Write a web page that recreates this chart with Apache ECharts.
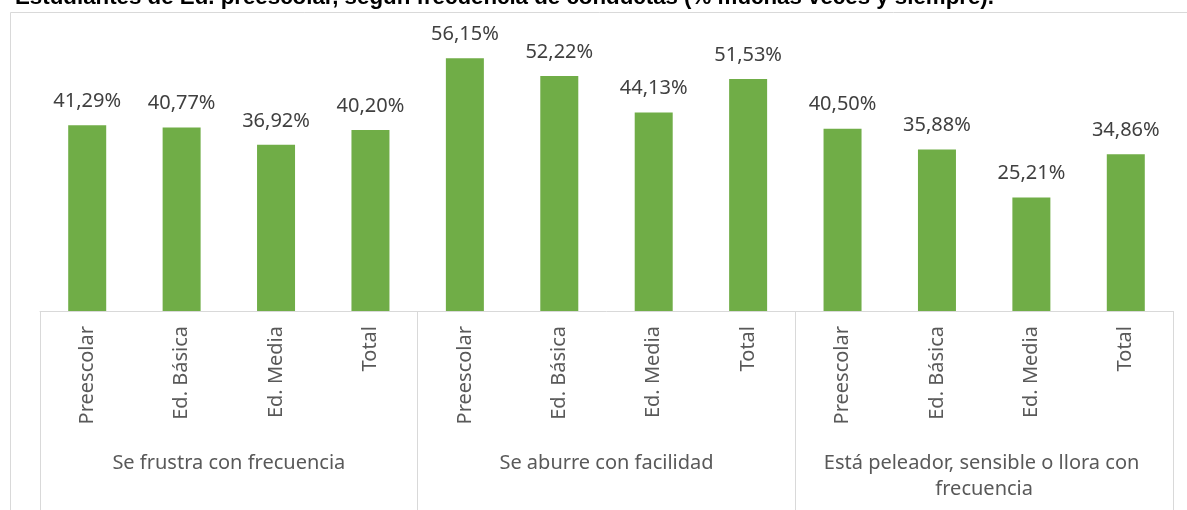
<!DOCTYPE html>
<html>
<head>
<meta charset="utf-8">
<script src="https://cdn.jsdelivr.net/npm/echarts@6/dist/echarts.min.js"></script>
<style>
  html, body { margin: 0; padding: 0; background: #fff; }
  #chart { width: 1187px; height: 510px; }
</style>
</head>
<body>
<div id="chart"></div>
<script>
// Levels shown inside each behaviour group
const levels = ['Preescolar', 'Ed. Básica', 'Ed. Media', 'Total'];
// Behaviour groups (outer axis level)
const groups = [
  'Se frustra con frecuencia',
  'Se aburre con facilidad',
  'Está peleador, sensible o llora con frecuencia'
];
// % muchas veces y siempre, per group and level
const frustra = [41.29, 40.77, 36.92, 40.20];
const aburre = [56.15, 52.22, 44.13, 51.53];
const peleador = [40.50, 35.88, 25.21, 34.86];

const titleText = 'Estudiantes de Ed. preescolar, según frecuencia de conductas (% muchas veces y siempre).';

const categories = [].concat(levels, levels, levels);
const values = [].concat(frustra, aburre, peleador);

const font = '"Noto Sans", "Open Sans", sans-serif';
const chart = echarts.init(document.getElementById('chart'), null, { renderer: 'canvas' });

chart.setOption({
  animation: false,
  backgroundColor: '#ffffff',
  title: {
    text: titleText,
    left: 10,
    top: -18,
    textStyle: {
      fontFamily: '"Liberation Sans", Arial, sans-serif',
      fontWeight: 'bold',
      fontSize: 22.3,
      color: '#000000'
    }
  },
  graphic: [{
    type: 'rect',
    silent: true,
    z: -1,
    shape: { x: 10.5, y: 12.5, width: 1300, height: 700 },
    style: { fill: 'none', stroke: '#d9d9d9', lineWidth: 1 }
  }],
  grid: { left: 40, right: 14, top: 41, bottom: 199 },
  xAxis: [{
    type: 'category',
    data: categories,
    position: 'bottom',
    axisLine: { show: true, lineStyle: { color: '#d9d9d9', width: 1 } },
    axisTick: { show: false },
    axisLabel: {
      interval: 0,
      rotate: 90,
      margin: 15,
      fontFamily: font,
      fontSize: 20,
      color: '#595959'
    }
  }, {
    type: 'category',
    data: groups,
    position: 'bottom',
    offset: 0,
    axisLine: { show: false },
    axisTick: {
      show: true,
      interval: 0,
      alignWithLabel: false,
      length: 210,
      lineStyle: { color: '#d9d9d9', width: 1 }
    },
    axisLabel: {
      interval: 0,
      margin: 139,
      fontFamily: font,
      fontSize: 20,
      lineHeight: 26,
      color: '#595959',
      width: 360,
      overflow: 'break',
      verticalAlign: 'top'
    }
  }],
  yAxis: {
    type: 'value',
    min: 0,
    max: 60,
    show: false,
    splitLine: { show: false }
  },
  series: [{
    type: 'bar',
    xAxisIndex: 0,
    data: values,
    barWidth: 38,
    itemStyle: { color: '#70ad47' },
    label: {
      show: true,
      position: 'top',
      distance: 14,
      fontFamily: font,
      fontSize: 20,
      color: '#404040',
      formatter: p => p.value.toFixed(2).replace('.', ',') + '%'
    }
  }]
});
</script>
</body>
</html>
